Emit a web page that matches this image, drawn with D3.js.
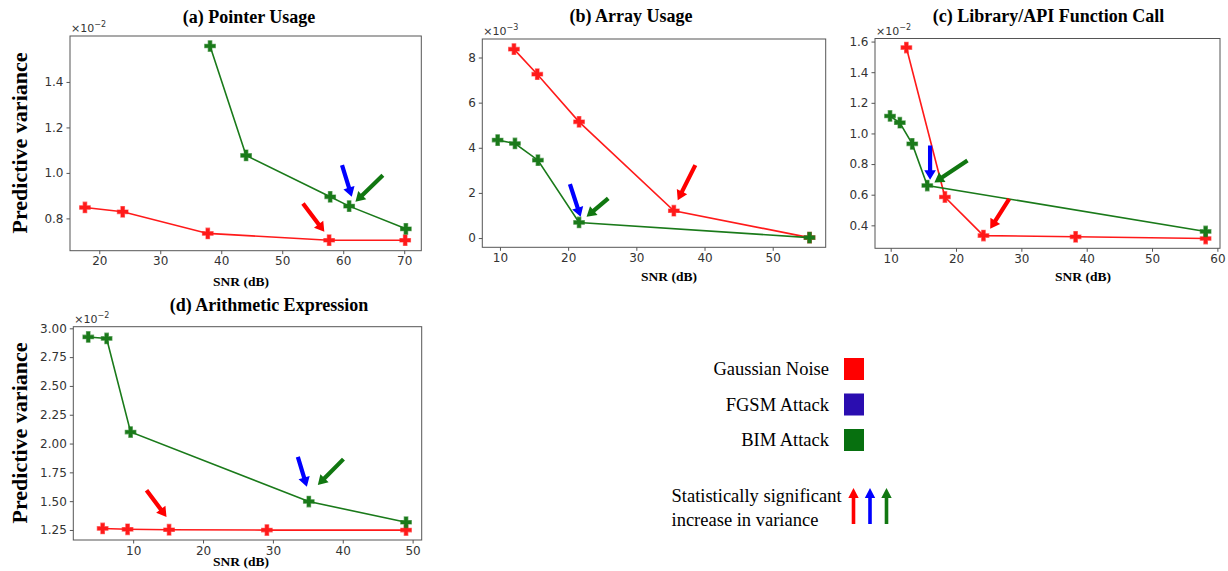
<!DOCTYPE html>
<html>
<head>
<meta charset="utf-8">
<script src="https://cdn.jsdelivr.net/npm/d3@7"></script>
<style>
  body { margin: 0; background: #fff; }
  .tick-label { font-family: "DejaVu Sans", sans-serif; font-size: 12px; fill: #333; }
  .serif { font-family: "Liberation Serif", "Times New Roman", serif; fill: #000; }
</style>
</head>
<body>
<svg id="chart" width="1228" height="571"></svg>
<script>
// ---- data (SNR in dB, predictive variance in units of the axis offset) ----
const snrA_gauss = [17.65, 23.84, 37.79, 57.69, 70.16];
const varA_gauss = [0.848, 0.829, 0.734, 0.704, 0.704];
const snrA_bim = [38.16, 44.07, 57.86, 60.97, 70.27];
const varA_bim = [1.558, 1.077, 0.895, 0.854, 0.754];

const snrB_gauss = [12.05, 15.47, 21.6, 35.5, 55.4];
const varB_gauss = [8.37, 7.26, 5.15, 1.21, 0.02];
const snrB_bim = [9.66, 12.2, 15.57, 21.6, 55.4];
const varB_bim = [4.34, 4.19, 3.45, 0.69, 0.02];

const snrC_gauss = [12.4, 18.3, 24.2, 38.3, 58.2];
const varC_gauss = [1.561, 0.585, 0.333, 0.325, 0.314];
const snrC_bim = [9.9, 11.4, 13.3, 15.6, 58.2];
const varC_bim = [1.114, 1.07, 0.932, 0.66, 0.36];

const snrD_gauss = [5.63, 9.2, 15.14, 29.14, 49.06];
const varD_gauss = [1.263, 1.256, 1.252, 1.249, 1.249];
const snrD_bim = [3.57, 6.2, 9.63, 35.14, 49.06];
const varD_bim = [2.925, 2.912, 2.1, 1.497, 1.317];

// axis limits and ticks
const xDomA = [15.2, 72.8], yDomA = [0.658, 1.602];
const xDomB = [7.41, 57.77], yDomB = [-0.41, 8.82];
const xDomC = [7.6, 60.4], yDomC = [0.25, 1.62];
const xDomD = [1.43, 51.3], yDomD = [1.163, 3.014];

const xTicksA = [20, 30, 40, 50, 60, 70], yTicksA = [0.8, 1.0, 1.2, 1.4];
const xTicksB = [10, 20, 30, 40, 50], yTicksB = [0, 2, 4, 6, 8];
const xTicksC = [10, 20, 30, 40, 50, 60], yTicksC = [0.4, 0.6, 0.8, 1.0, 1.2, 1.4, 1.6];
const xTicksD = [10, 20, 30, 40, 50], yTicksD = [1.25, 1.5, 1.75, 2.0, 2.25, 2.5, 2.75, 3.0];

// significance arrows: [tail snr, tail var, head snr, head var]
const arrowsA = [["fgsm", 59.8, 1.034, 61.4, 0.895], ["bim", 66.5, 0.990, 62.0, 0.873], ["gauss", 53.4, 0.866, 56.9, 0.741]];
const arrowsB = [["fgsm", 20.26, 2.39, 21.83, 0.94], ["bim", 25.88, 1.76, 22.7, 0.94], ["gauss", 38.65, 3.23, 36.07, 1.68]];
const arrowsC = [["fgsm", 16.03, 0.921, 16.03, 0.698], ["bim", 21.75, 0.824, 16.69, 0.68], ["gauss", 28.14, 0.572, 25.23, 0.377]];
const arrowsD = [["fgsm", 33.57, 1.885, 34.86, 1.625], ["bim", 40.1, 1.865, 36.43, 1.64], ["gauss", 11.91, 1.594, 14.77, 1.363]];

const legendNames = ["Gaussian Noise", "FGSM Attack", "BIM Attack"];
const legendKeys = ["gauss", "fgsm", "bim"];

// ---- styles / layout ----
const LINE_COLORS = { gauss: "#ff1a1a", bim: "#1a7a1a" };
const ARROW_COLORS = { gauss: "#ff0000", fgsm: "#0000ff", bim: "#117711" };
const LEGEND_COLORS = { gauss: "#ff0000", fgsm: "#2a0db0", bim: "#07700f" };

const panels = [
  { title: "(a) Pointer Usage", box: [70, 36, 421.3, 250.7], titleX: 249, titleY: 23, xlabX: 241, xlabY: 286,
    xDom: xDomA, yDom: yDomA, xTicks: xTicksA, yTicks: yTicksA, yFmt: ".1f", exp: "−2", yLabelY: 143,
    gauss: [snrA_gauss, varA_gauss], bim: [snrA_bim, varA_bim], arrows: arrowsA },
  { title: "(b) Array Usage", box: [482.3, 39, 825.7, 247.3], titleX: 631, titleY: 22, xlabX: 669, xlabY: 281,
    xDom: xDomB, yDom: yDomB, xTicks: xTicksB, yTicks: yTicksB, yFmt: "d", exp: "−3",
    gauss: [snrB_gauss, varB_gauss], bim: [snrB_bim, varB_bim], arrows: arrowsB },
  { title: "(c) Library/API Function Call", box: [875, 38.5, 1220, 248.3], titleX: 1048.5, titleY: 22, xlabX: 1083, xlabY: 281,
    xDom: xDomC, yDom: yDomC, xTicks: xTicksC, yTicks: yTicksC, yFmt: ".1f", exp: "−2",
    gauss: [snrC_gauss, varC_gauss], bim: [snrC_bim, varC_bim], arrows: arrowsC },
  { title: "(d) Arithmetic Expression", box: [73.3, 326.7, 421.7, 540], titleX: 269, titleY: 311, xlabX: 241, xlabY: 566,
    xDom: xDomD, yDom: yDomD, xTicks: xTicksD, yTicks: yTicksD, yFmt: ".2f", exp: "−2", yLabelY: 433,
    gauss: [snrD_gauss, varD_gauss], bim: [snrD_bim, varD_bim], arrows: arrowsD },
];

const svg = d3.select("#chart");

function arrowPath(x1, y1, x2, y2, shaft = 2.1, head = 5.8, headLen = 9.5) {
  const dx = x2 - x1, dy = y2 - y1;
  const len = Math.hypot(dx, dy);
  const ux = dx / len, uy = dy / len;
  const nx = -uy, ny = ux;
  const bx = x2 - ux * headLen, by = y2 - uy * headLen;
  const pts = [
    [x1 + nx * shaft, y1 + ny * shaft],
    [bx + nx * shaft, by + ny * shaft],
    [bx + nx * head, by + ny * head],
    [x2, y2],
    [bx - nx * head, by - ny * head],
    [bx - nx * shaft, by - ny * shaft],
    [x1 - nx * shaft, y1 - ny * shaft],
  ];
  return "M" + pts.map((p) => p.join(",")).join("L") + "Z";
}

const marker = d3.symbol().type(d3.symbolCross).size(62);

panels.forEach((p) => {
  const [x0, y0, x1, y1] = p.box;
  const x = d3.scaleLinear().domain(p.xDom).range([x0, x1]);
  const y = d3.scaleLinear().domain(p.yDom).range([y1, y0]);
  const g = svg.append("g");

  // axes
  const xAxis = d3.axisBottom(x).tickValues(p.xTicks).tickSize(3.5).tickPadding(2.5).tickFormat(d3.format("d"));
  const yAxis = d3.axisLeft(y).tickValues(p.yTicks).tickSize(3.5).tickPadding(3).tickFormat(d3.format(p.yFmt));
  const gx = g.append("g").attr("transform", `translate(0,${y1})`).call(xAxis);
  const gy = g.append("g").attr("transform", `translate(${x0},0)`).call(yAxis);
  [gx, gy].forEach((a) => {
    a.select(".domain").remove();
    a.selectAll(".tick line").attr("stroke", "#555");
    a.selectAll(".tick text").attr("class", "tick-label").attr("font-family", null).attr("font-size", null).attr("fill", null);
  });

  // frame
  g.append("rect").attr("x", x0).attr("y", y0).attr("width", x1 - x0).attr("height", y1 - y0)
    .attr("fill", "none").attr("stroke", "#555").attr("stroke-width", 1);

  // offset text
  const off = g.append("text").attr("class", "tick-label").attr("x", x0 + 1).attr("y", y0 - 4).style("font-size", "11px");
  off.append("tspan").text("×10");
  off.append("tspan").attr("dy", -5).style("font-size", "8px").text(p.exp);

  // series
  const line = d3.line().x((d) => x(d[0])).y((d) => y(d[1]));
  ["gauss", "bim"].forEach((key) => {
    const [sx, sy] = p[key];
    const pts = sx.map((v, i) => [v, sy[i]]);
    g.append("path").datum(pts).attr("d", line).attr("fill", "none")
      .attr("stroke", LINE_COLORS[key]).attr("stroke-width", 1.6);
    g.selectAll(null).data(pts).enter().append("path")
      .attr("transform", (d) => `translate(${x(d[0])},${y(d[1])})`)
      .attr("d", marker)
      .attr("fill", LINE_COLORS[key])
      .attr("stroke", LINE_COLORS[key]).attr("stroke-opacity", 0.6).attr("stroke-width", 1.2);
  });

  // significance arrows
  g.selectAll(null).data(p.arrows).enter().append("path")
    .attr("d", (d) => arrowPath(x(d[1]), y(d[2]), x(d[3]), y(d[4])))
    .attr("fill", (d) => ARROW_COLORS[d[0]]);

  // labels
  g.append("text").attr("class", "serif").attr("x", p.titleX).attr("y", p.titleY)
    .attr("text-anchor", "middle").style("font-size", "18px").style("font-weight", "bold").text(p.title);
  g.append("text").attr("class", "serif").attr("x", p.xlabX).attr("y", p.xlabY)
    .attr("text-anchor", "middle").style("font-size", "13.5px").style("font-weight", "bold").text("SNR (dB)");
  if (p.yLabelY) {
    g.append("text").attr("class", "serif")
      .attr("transform", `translate(27,${p.yLabelY}) rotate(-90)`)
      .attr("text-anchor", "middle").style("font-size", "22px").style("font-weight", "bold")
      .text("Predictive variance");
  }
});

// ---- legend ----
const legend = svg.append("g");
const legY = d3.scalePoint().domain(legendKeys).range([369, 440]);
legendKeys.forEach((k, i) => {
  legend.append("text").attr("class", "serif").attr("x", 829).attr("y", legY(k))
    .attr("dy", "0.35em").attr("text-anchor", "end").style("font-size", "18.5px").text(legendNames[i]);
  legend.append("rect").attr("x", 844).attr("y", legY(k) - 11).attr("width", 20).attr("height", 22)
    .attr("fill", LEGEND_COLORS[k]);
});
legend.append("text").attr("class", "serif").attr("x", 671.5).attr("y", 502).style("font-size", "18.5px")
  .text("Statistically significant");
legend.append("text").attr("class", "serif").attr("x", 671.5).attr("y", 526).style("font-size", "18.5px")
  .text("increase in variance");
const legArrowX = d3.scalePoint().domain(["gauss", "fgsm", "bim"]).range([853.5, 886.5]);
["gauss", "fgsm", "bim"].forEach((k) => {
  legend.append("path").attr("d", arrowPath(legArrowX(k), 524, legArrowX(k), 488, 1.8, 5.2, 10))
    .attr("fill", ARROW_COLORS[k]);
});
</script>
</body>
</html>
